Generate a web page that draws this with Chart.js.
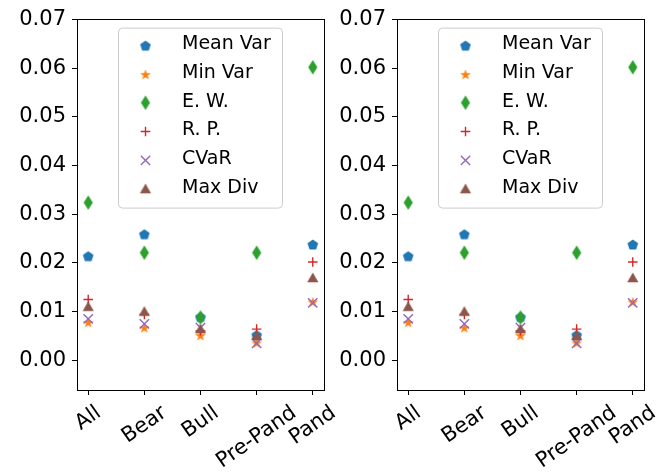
<!DOCTYPE html>
<html>
<head>
<meta charset="utf-8">
<script src="https://cdn.jsdelivr.net/npm/chart.js@4/dist/chart.umd.min.js"></script>
<style>
  body { margin: 0; background: #fff; }
  #wrap { position: relative; width: 668px; height: 472px; overflow: hidden; }
  canvas { position: absolute; top: 0; }
  #left { left: 0; }
  #right { left: 334px; }
</style>
</head>
<body>
<div id="wrap">
  <canvas id="left" width="350" height="472"></canvas>
  <canvas id="right" width="334" height="472"></canvas>
</div>
<script>
const categories = ['All', 'Bear', 'Bull', 'Pre-Pand', 'Pand'];
const seriesNames = ['Mean Var', 'Min Var', 'E. W.', 'R. P.', 'CVaR', 'Max Div'];
const meanVar = [0.0215, 0.0260, 0.0090, 0.0053, 0.0239];
const minVar = [0.0079, 0.0068, 0.0052, 0.0037, 0.0121];
const equalWeight = [0.0324, 0.0221, 0.0088, 0.0221, 0.0602];
const riskParity = [0.0125, 0.0094, 0.0061, 0.0064, 0.0202];
const cvar = [0.0085, 0.0075, 0.0067, 0.0035, 0.0118];
const maxDiv = [0.0110, 0.0100, 0.0064, 0.0050, 0.0169];
const yTicks = [0, 0.01, 0.02, 0.03, 0.04, 0.05, 0.06, 0.07];

const FONT = 'DejaVu Sans';
const colors = ['#1f77b4', '#ff7f0e', '#2ca02c', '#d62728', '#9467bd', '#8c564b'];

// small canvases used as point styles for the filled markers
function makeMarker(shape, color) {
  const c = document.createElement('canvas');
  c.width = 18; c.height = 18;
  const ctx = c.getContext('2d');
  const cx = 9, cy = 9;
  ctx.fillStyle = color;
  ctx.beginPath();
  if (shape === 'pentagon') {
    for (let i = 0; i < 5; i++) {
      const a = -Math.PI / 2 + i * 2 * Math.PI / 5;
      ctx.lineTo(cx + 5.6 * Math.cos(a), cy + 1 + 5.6 * Math.sin(a));
    }
  } else if (shape === 'star') {
    for (let i = 0; i < 10; i++) {
      const a = -Math.PI / 2 + i * Math.PI / 5;
      const r = i % 2 ? 2.3 : 5.6;
      ctx.lineTo(cx + r * Math.cos(a), cy + 1 + r * Math.sin(a));
    }
  } else if (shape === 'thinDiamond') {
    ctx.moveTo(cx, cy - 7.2);
    ctx.lineTo(cx + 4.6, cy);
    ctx.lineTo(cx, cy + 7.2);
    ctx.lineTo(cx - 4.6, cy);
  } else if (shape === 'triangle') {
    ctx.moveTo(cx, cy - 5.5);
    ctx.lineTo(cx + 5.6, cy + 4.3);
    ctx.lineTo(cx - 5.6, cy + 4.3);
  }
  ctx.closePath();
  ctx.fill();
  return c;
}

const markerStyles = [
  { pointStyle: makeMarker('pentagon', colors[0]), radius: 6, borderWidth: 0 },
  { pointStyle: makeMarker('star', colors[1]), radius: 6, borderWidth: 0 },
  { pointStyle: makeMarker('thinDiamond', colors[2]), radius: 6, borderWidth: 0 },
  { pointStyle: 'cross', radius: 4.8, borderWidth: 1.4 },
  { pointStyle: 'crossRot', radius: 6.6, borderWidth: 1.4 },
  { pointStyle: makeMarker('triangle', colors[5]), radius: 6, borderWidth: 0 },
];

const seriesValues = [meanVar, minVar, equalWeight, riskParity, cvar, maxDiv];

function buildDatasets() {
  return seriesNames.map((name, i) => ({
    label: name,
    data: seriesValues[i].map((v, j) => ({ x: j, y: v })),
    pointStyle: markerStyles[i].pointStyle,
    pointRadius: markerStyles[i].radius,
    borderWidth: markerStyles[i].borderWidth,
    borderColor: colors[i],
    backgroundColor: colors[i],
    showLine: false,
    order: seriesNames.length - i,
  }));
}

// frame around the plot area (all four spines)
const framePlugin = {
  id: 'frame',
  afterDatasetsDraw(chart) {
    const { ctx, chartArea: a } = chart;
    ctx.save();
    ctx.strokeStyle = '#000';
    ctx.lineWidth = 1;
    ctx.strokeRect(Math.round(a.left) + 0.5, Math.round(a.top) + 0.5,
      Math.round(a.right - a.left), Math.round(a.bottom - a.top));
    ctx.restore();
  }
};

// rotated x labels centred under their ticks
const xLabelPlugin = {
  id: 'xLabels',
  afterDraw(chart) {
    const { ctx, chartArea: a } = chart;
    const xs = chart.scales.x;
    const theta = 35 * Math.PI / 180;
    const size = 21;
    ctx.save();
    ctx.font = `${size}px ${FONT}`;
    ctx.fillStyle = '#000';
    ctx.textAlign = 'center';
    ctx.textBaseline = 'middle';
    categories.forEach((label, i) => {
      const w = ctx.measureText(label).width;
      const h = size * 1.15;
      const boxH = w * Math.sin(theta) + h * Math.cos(theta);
      const x = xs.getPixelForValue(i);
      const y = a.bottom + 11 + boxH / 2;
      ctx.save();
      ctx.translate(x, y);
      ctx.rotate(-theta);
      ctx.fillText(label, 0, 0);
      ctx.restore();
    });
    ctx.restore();
  }
};

// matplotlib-like legend box inside the plot
const legendPlugin = {
  id: 'boxLegend',
  afterDraw(chart) {
    const { ctx, chartArea: a } = chart;
    const boxW = 164, boxH = 180;
    const left = (a.left + a.right) / 2 - boxW / 2;
    const top = a.top + 9.5;
    ctx.save();
    ctx.fillStyle = 'rgba(255,255,255,0.8)';
    ctx.strokeStyle = '#cccccc';
    ctx.lineWidth = 1;
    ctx.beginPath();
    ctx.roundRect(left, top, boxW, boxH, 4);
    ctx.fill();
    ctx.stroke();
    ctx.font = `19px ${FONT}`;
    ctx.textBaseline = 'middle';
    ctx.textAlign = 'left';
    seriesNames.forEach((name, i) => {
      const y = top + 17 + i * 28.8;
      const m = markerStyles[i];
      ctx.strokeStyle = colors[i];
      ctx.fillStyle = colors[i];
      ctx.lineWidth = m.borderWidth;
      Chart.helpers.drawPoint(ctx, {
        pointStyle: m.pointStyle, radius: m.radius, rotation: 0, borderWidth: m.borderWidth
      }, left + 27, y);
      ctx.fillStyle = '#000';
      ctx.fillText(name, left + 63.5, y - 1);
    });
    ctx.restore();
  }
};

function makeChart(id, yWidth, padRight) {
  return new Chart(document.getElementById(id), {
    type: 'scatter',
    data: { datasets: buildDatasets() },
    options: {
      responsive: false,
      animation: false,
      events: [],
      layout: { padding: { left: 0, right: padRight, top: 16, bottom: 0 } },
      plugins: { legend: { display: false }, tooltip: { enabled: false } },
      scales: {
        x: {
          type: 'linear',
          min: -0.2,
          max: 4.2,
          afterBuildTicks: s => { s.ticks = categories.map((c, i) => ({ value: i })); },
          afterFit: s => { s.height = 82; },
          ticks: { display: false },
          border: { display: false },
          grid: { drawOnChartArea: false, drawTicks: true, tickLength: 5, color: '#000', lineWidth: 1 },
        },
        y: {
          type: 'linear',
          min: -0.0061,
          max: 0.0702,
          afterBuildTicks: s => { s.ticks = yTicks.map(v => ({ value: v })); },
          afterFit: s => { s.width = yWidth; },
          ticks: {
            font: { family: FONT, size: 21 },
            color: '#000',
            padding: 6,
            callback: v => v.toFixed(2),
          },
          border: { display: false },
          grid: { drawOnChartArea: false, drawTicks: true, tickLength: 5, color: '#000', lineWidth: 1 },
        },
      },
    },
    plugins: [framePlugin, xLabelPlugin, legendPlugin],
  });
}

makeChart('left', 77, 26);
makeChart('right', 63, 24);
</script>
</body>
</html>
